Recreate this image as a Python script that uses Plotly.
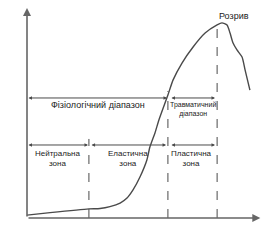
import plotly.graph_objects as go

# Stress–strain curve (deformation %, load %)
deformation = [0, 10, 26.8, 31.6, 35.9, 40.3, 43.3, 45.9, 48.9, 51.9, 53.2, 55.4, 57.1,
               61.0, 63.2, 67.1, 71.9, 77.1, 82.3, 84.4, 86.6, 87.9, 89.2, 90.9, 93.1, 94.4, 96.5]
load = [1.4, 2.6, 4.4, 4.6, 5.5, 7.2, 9.6, 13.5, 19.7, 27.9, 34.1, 40.9, 47.1,
        59.1, 66.3, 74.5, 82.2, 88.9, 92.8, 93.8, 92.8, 88.9, 84.1, 80.8, 77.4, 71.2, 61.5]

# zone boundaries (deformation) and the height of their dashed markers (load)
boundaries = [26.8, 61.0, 82.3]
boundary_tops = [38.0, 61.0, 93.0]

# range labels
range_labels = ["Фізіологічний діапазон", "Травматичний<br>діапазон"]
range_spans = [(0, 60.6), (61.9, 81.4)]
zone_labels = ["Нейтральна<br>зона", "Еластична<br>зона", "Пластична<br>зона"]
zone_spans = [(0, 26.4), (27.3, 60.2), (61.9, 81.4)]
range_row = 57.7
zone_row = 35.1

LINE = "#4a4a4a"
AXIS = "#666666"
TEXT = "#222222"
FONT = "Liberation Sans"

fig = go.Figure()
fig.add_trace(go.Scatter(x=deformation, y=load, mode="lines",
                         line=dict(color=LINE, width=1.4, shape="spline", smoothing=0.6),
                         hoverinfo="skip", showlegend=False))

for b, top in zip(boundaries, boundary_tops):
    fig.add_shape(type="line", x0=b, x1=b, y0=0, y1=top, xref="x", yref="y",
                  line=dict(color=LINE, width=1, dash="dash"))

ann = []
# axes with arrows
ann.append(dict(x=0, y=101, ax=0, ay=0, xref="x", yref="y", axref="x", ayref="y",
                showarrow=True, arrowhead=2, arrowsize=1, arrowwidth=1.6, arrowcolor=AXIS, text=""))
ann.append(dict(x=101, y=0, ax=0, ay=0, xref="x", yref="y", axref="x", ayref="y",
                showarrow=True, arrowhead=2, arrowsize=1, arrowwidth=1.6, arrowcolor=AXIS, text=""))

def dbl_arrow(x0, x1, y):
    return dict(x=x1, y=y, ax=x0, ay=y, xref="x", yref="y", axref="x", ayref="y",
                showarrow=True, arrowhead=2, startarrowhead=2, arrowside="end+start",
                arrowsize=0.7, startarrowsize=0.7, arrowwidth=1, arrowcolor=LINE, text="")

for (a, b) in range_spans:
    ann.append(dbl_arrow(a, b, range_row))
for (a, b) in zone_spans:
    ann.append(dbl_arrow(a, b, zone_row))

ann.append(dict(x=30.7, y=54.3, xref="x", yref="y", text=range_labels[0], showarrow=False,
                font=dict(size=9, color=TEXT, family=FONT)))
ann.append(dict(x=71.7, y=52.2, xref="x", yref="y", text=range_labels[1], showarrow=False,
                font=dict(size=7, color=TEXT, family=FONT)))
for lbl, xc in zip(zone_labels, [13.4, 43.7, 71.4]):
    ann.append(dict(x=xc, y=28.6, xref="x", yref="y", text=lbl, showarrow=False,
                    font=dict(size=8, color=TEXT, family=FONT)))

ann.append(dict(x=89.6, y=97.1, xref="x", yref="y", text="Розрив", showarrow=False,
                font=dict(size=9, color=TEXT, family=FONT)))
ann.append(dict(x=55.4, y=-2.9, xref="x", yref="y", text="Деформація", showarrow=False,
                font=dict(size=9, color=TEXT, family=FONT)))
ann.append(dict(x=0, y=-4.3, xref="x", yref="y", text="0", showarrow=False,
                font=dict(size=9, color=TEXT, family=FONT)))
ann.append(dict(x=-2.6, y=55, xref="x", yref="y", text="Навантаження", showarrow=False,
                textangle=-90, font=dict(size=8.5, color=TEXT, family=FONT)))

fig.update_layout(
    width=280, height=240,
    margin=dict(l=27, r=22, t=10, b=22),
    paper_bgcolor="white", plot_bgcolor="white",
    xaxis=dict(range=[0, 100], visible=False, fixedrange=True),
    yaxis=dict(range=[0, 100], visible=False, fixedrange=True),
    annotations=ann,
    showlegend=False,
)

fig.write_html("out.html")
